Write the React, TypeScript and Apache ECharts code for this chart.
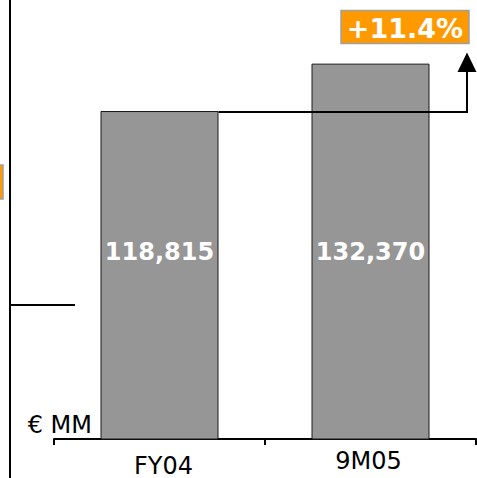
import React, { useEffect, useRef } from "react";
import * as echarts from "echarts";

const categories = ["FY04", "9M05"];
const values = [118815, 132370];
const unitLabel = "€ MM";

const FONT = "'DejaVu Sans', Verdana, sans-serif";

export default function App() {
  const ref = useRef<HTMLDivElement>(null);

  useEffect(() => {
    if (!ref.current) return;
    const chart = echarts.init(ref.current, null, { renderer: "svg" });
    const barWidth = 118;
    const growth = ((values[1] / values[0] - 1) * 100).toFixed(1);

    chart.setOption({
      animation: false,
      grid: { left: 54, right: 1, top: 2, bottom: 31, containLabel: false },
      xAxis: {
        type: "category",
        data: categories,
        axisLine: { show: true, lineStyle: { color: "#000", width: 2 } },
        axisTick: { show: true, length: 6, lineStyle: { color: "#000", width: 2 } },
        axisLabel: {
          margin: 10,
          color: "#000",
          fontFamily: FONT,
          fontSize: 24,
          formatter: (v: string, i: number) => (i === 0 ? `{low|${v}}` : `{high|${v}}`),
          rich: {
            low: { fontFamily: FONT, fontSize: 24, color: "#000", padding: [5, 0, 0, 8] },
            high: { fontFamily: FONT, fontSize: 24, color: "#000", padding: [0, 4, 0, 0] },
          },
        },
      },
      yAxis: {
        type: "value",
        min: 25000,
        max: 150000,
        show: false,
        splitLine: { show: false },
      },
      series: [
        {
          type: "bar",
          data: values,
          barWidth: barWidth,
          itemStyle: { color: "#969696", borderColor: "#1a1a1a", borderWidth: 1 },
          label: {
            show: true,
            position: "insideBottom",
            distance: 176,
            color: "#fff",
            fontFamily: FONT,
            fontWeight: "bold",
            fontSize: 24,
            formatter: (p: any) => Number(p.value).toLocaleString("en-US"),
          },
        },
      ],
    });

    const p1 = chart.convertToPixel({ xAxisIndex: 0, yAxisIndex: 0 }, [0, values[0]]) as number[];
    const lineStartX = p1[0] + barWidth / 2;
    const lineY = p1[1] + 1;
    const arrowX = 467;

    chart.setOption({
      graphic: [
        { type: "line", shape: { x1: 10, y1: 0, x2: 10, y2: 478 }, style: { stroke: "#000", lineWidth: 2 } },
        { type: "line", shape: { x1: 10, y1: 305, x2: 75, y2: 305 }, style: { stroke: "#000", lineWidth: 2 } },
        { type: "rect", shape: { x: -4, y: 165, width: 7, height: 34 }, style: { fill: "#FF9900", stroke: "#A0A0A0", lineWidth: 1.5 } },
        {
          type: "text",
          x: 92,
          y: 425,
          style: { text: unitLabel, fill: "#000", font: `24px ${FONT}`, align: "right", verticalAlign: "middle" },
        },
        {
          type: "polyline",
          shape: { points: [[lineStartX, lineY], [arrowX, lineY], [arrowX, 71]] },
          style: { stroke: "#000", lineWidth: 2, fill: null },
          z: 100,
        },
        {
          type: "polygon",
          shape: { points: [[457.5, 72], [476.5, 72], [467, 52.5]] },
          style: { fill: "#000" },
          z: 100,
        },
        {
          type: "rect",
          shape: { x: 341, y: 10.5, width: 128, height: 33 },
          style: { fill: "#FF9900", stroke: "#A0A0A0", lineWidth: 1.5 },
          z: 100,
        },
        {
          type: "text",
          x: 405,
          y: 28,
          style: {
            text: `+${growth}%`,
            fill: "#fff",
            font: `bold 27px ${FONT}`,
            align: "center",
            verticalAlign: "middle",
          },
          z: 101,
        },
      ],
    });

    return () => chart.dispose();
  }, []);

  return (
    <div
      ref={ref}
      style={{ position: "absolute", left: 0, top: 0, width: 477, height: 478, background: "#fff" }}
    />
  );
}
